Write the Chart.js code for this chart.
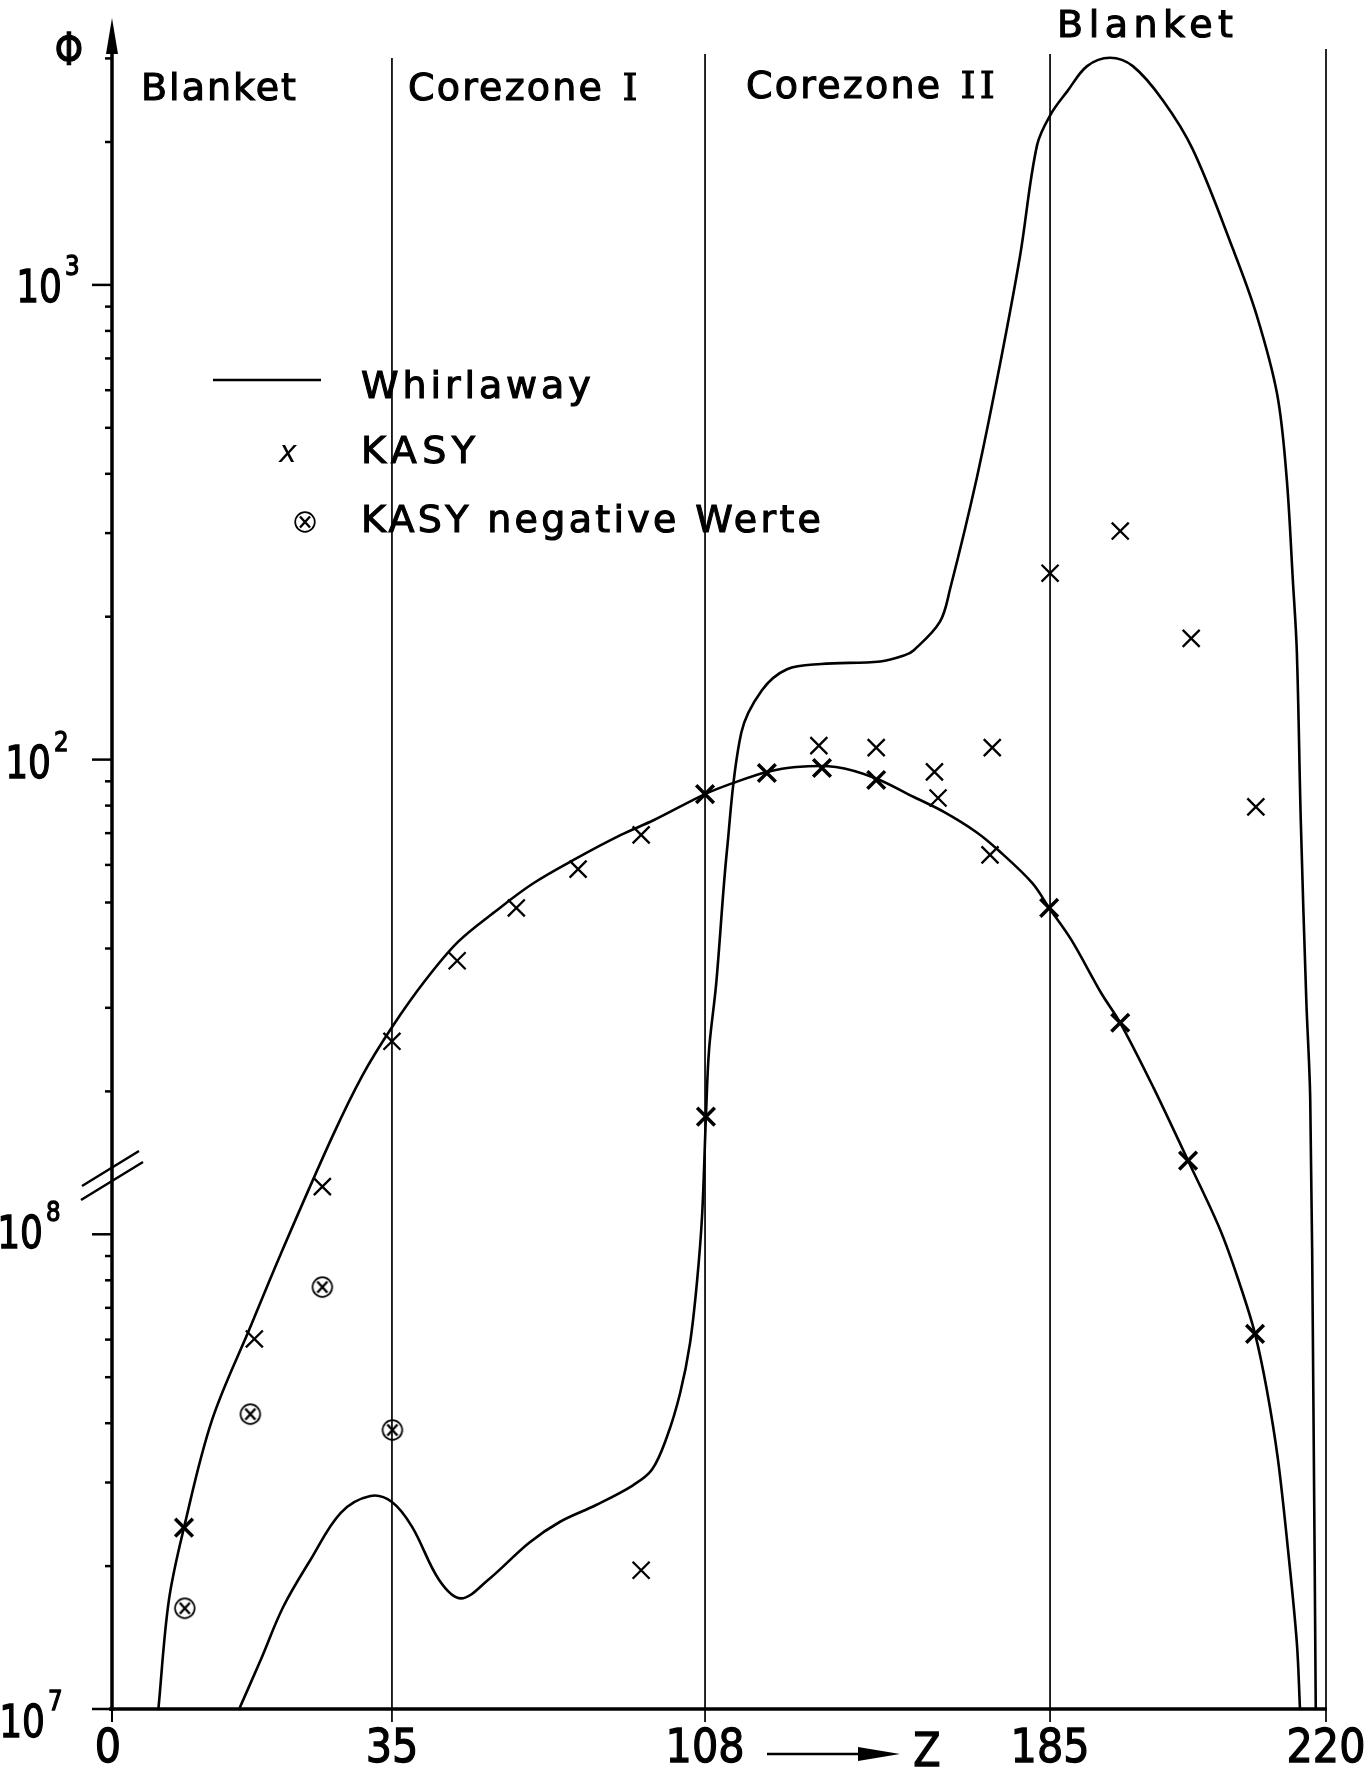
<!DOCTYPE html>
<html>
<head>
<meta charset="utf-8">
<script src="https://cdn.jsdelivr.net/npm/chart.js@4.4.0/dist/chart.umd.min.js"></script>
<style>
  html, body { margin: 0; padding: 0; background: #fff; }
  #wrap { width: 1370px; height: 1768px; }
</style>
</head>
<body>
<div id="wrap"><canvas id="chartFlux" width="1370" height="1768"></canvas></div>
<script>
// zone boundaries on the Z axis (tick labels)
var zoneTicks = [0, 35, 108, 185, 220];
var zoneNames = ['Blanket', 'Corezone I', 'Corezone II', 'Blanket'];

// decades of the drawn axis; the axis is broken above 10^8,
// so the decade drawn at 1e9 reads 10^2 and the one at 1e10 reads 10^3
var decadeValues = [1e7, 1e8, 1e9, 1e10];
var decadeLabels = ['7', '8', '2', '3'];

// Whirlaway, flux through the KASY points
var whirlAZ = [5.8, 7.1, 9.0, 12.5, 17.4, 21.1, 27.5, 31.3, 35.0, 42.7,
  50.4, 59.0, 67.7, 78.1, 88.4, 96.1, 108.0, 114.3, 121.8, 128.3,
  137.2, 145.9, 154.6, 161.3, 168.5, 173.4, 181.0, 184.8, 187.7, 191.5,
  193.9, 198.1, 202.5, 206.6, 209.1, 211.0, 212.5, 213.9, 215.2, 216.3, 216.7];
var whirlAPhi = [1.0e7, 1.69e7, 2.41e7, 4.06e7, 6.44e7, 9.09e7, 1.60e8, 2.16e8, 2.73e8, 3.42e8,
  4.13e8, 4.78e8, 5.47e8, 6.20e8, 6.94e8, 7.46e8, 8.46e8, 8.93e8, 9.42e8, 9.65e8,
  9.65e8, 9.15e8, 8.34e8, 7.76e8, 7.04e8, 6.45e8, 5.50e8, 4.87e8, 4.17e8, 3.22e8,
  2.79e8, 2.04e8, 1.43e8, 1.02e8, 7.82e7, 6.17e7, 4.70e7, 3.36e7, 2.15e7, 1.38e7, 1.0e7];

// Whirlaway, second curve (peak in the outer blanket)
var whirlBZ = [15.9, 18.6, 21.4, 24.8, 28.6, 32.3, 35.0, 39.7, 46.0, 51.1,
  57.4, 67.0, 74.2, 82.6, 91.2, 95.6, 99.1, 102.2, 104.5, 106.1,
  107.3, 108.2, 108.9, 110.5, 112.9, 116.1, 120.7, 126.3, 133.9, 147.1,
  152.6, 154.6, 160.4, 162.7, 168.7, 173.8, 178.3, 182.1, 185.1, 187.2,
  189.7, 192.6, 195.5, 199.3, 203.1, 208.2, 211.2, 213.8, 215.0, 215.8,
  216.3, 216.8, 217.5, 218.0, 218.4, 218.7];
var whirlBPhi = [1.0e7, 1.27e7, 1.64e7, 2.06e7, 2.59e7, 2.81e7, 2.73e7, 2.42e7, 1.87e7, 1.71e7,
  1.87e7, 2.24e7, 2.48e7, 2.69e7, 2.96e7, 3.19e7, 3.74e7, 4.63e7, 5.90e7, 7.90e7,
  1.09e8, 1.77e8, 2.45e8, 3.38e8, 6.45e8, 1.14e9, 1.40e9, 1.55e9, 1.59e9, 1.61e9,
  1.66e9, 1.70e9, 1.95e9, 2.29e9, 3.94e9, 6.78e9, 1.15e10, 1.97e10, 2.29e10, 2.56e10,
  2.89e10, 3.01e10, 2.89e10, 2.45e10, 1.93e10, 1.19e10, 8.64e9, 5.89e9, 3.94e9, 2.38e9,
  1.69e9, 7.46e8, 3.12e8, 1.92e8, 4.48e7, 1.0e7];

// KASY
var kasyZ = [17.8, 26.3, 35.0, 50.2, 64.0, 78.4, 93.1, 93.1, 133.4, 146.2,
  159.2, 160.0, 172.1, 171.6, 185.0, 193.9, 202.9, 211.1];
var kasyPhi = [6.02e7, 1.26e8, 2.55e8, 3.77e8, 4.87e8, 5.88e8, 6.94e8, 1.96e7, 1.07e9, 1.06e9,
  9.42e8, 8.30e8, 1.06e9, 6.30e8, 2.47e9, 3.03e9, 1.80e9, 7.95e8];

// KASY points lying on the Whirlaway curves (drawn heavier)
var kasyOnZ = [9.0, 108.0, 108.2, 121.8, 134.1, 146.2, 184.8, 193.9, 202.5, 211.0];
var kasyOnPhi = [2.41e7, 8.46e8, 1.77e8, 9.37e8, 9.60e8, 9.06e8, 4.87e8, 2.79e8, 1.43e8, 6.17e7];

// KASY negative Werte
var kasyNegZ = [9.1, 17.3, 26.3, 35.1];
var kasyNegPhi = [1.63e7, 4.18e7, 7.74e7, 3.87e7];

// where the zone boundaries sit along the axis (fraction of its length)
var zoneFrac = [0, 0.2306, 0.4885, 0.7727, 1];

toPoints = (zs, phis) => zs.map((z, i) => ({ x: z, y: phis[i] }));

zoneFraction = (v) => {
  for (var i = 1; i < zoneTicks.length; i++) {
    if (v <= zoneTicks[i] || i === zoneTicks.length - 1) {
      var t = (v - zoneTicks[i - 1]) / (zoneTicks[i] - zoneTicks[i - 1]);
      return zoneFrac[i - 1] + t * (zoneFrac[i] - zoneFrac[i - 1]);
    }
  }
  return 0;
};

// linear scale, but piecewise between the zone boundaries
class ZoneScale extends Chart.LinearScale {
  getPixelForValue(value) {
    return this.getPixelForDecimal(zoneFraction(value));
  }
  getValueForPixel(pixel) {
    var f = this.getDecimalForPixel(pixel);
    for (var i = 1; i < zoneFrac.length; i++) {
      if (f <= zoneFrac[i]) {
        var t = (f - zoneFrac[i - 1]) / (zoneFrac[i] - zoneFrac[i - 1]);
        return zoneTicks[i - 1] + t * (zoneTicks[i] - zoneTicks[i - 1]);
      }
    }
    return zoneTicks[zoneTicks.length - 1];
  }
}
ZoneScale.id = 'zone';
ZoneScale.defaults = Chart.LinearScale.defaults;
Chart.register(ZoneScale);

circledCross = () => {
  var c = document.createElement('canvas');
  c.width = 26;
  c.height = 26;
  var g = c.getContext('2d');
  g.strokeStyle = '#000';
  g.lineWidth = 1.7;
  g.beginPath();
  g.arc(13, 13, 9.8, 0, 2 * Math.PI);
  g.stroke();
  g.lineWidth = 2.4;
  g.beginPath();
  g.moveTo(8, 7.5); g.lineTo(18, 18.5);
  g.moveTo(18, 7.5); g.lineTo(8, 18.5);
  g.stroke();
  return c;
};
var negMarker = circledCross();

var FONT = '"DejaVu Sans", sans-serif';

// text with a thin outline, closer to the heavy plotter lettering
heavyText = (ctx, text, x, y, weight) => {
  ctx.fillText(text, x, y);
  ctx.lineWidth = weight;
  ctx.strokeText(text, x, y);
};

narrowText = (ctx, text, x, y, size, sx, align) => {
  ctx.save();
  ctx.font = size + 'px ' + FONT;
  ctx.translate(x, y);
  ctx.scale(sx, 1);
  ctx.textAlign = align;
  heavyText(ctx, text, 0, 0, 1.3);
  ctx.restore();
};

spacedText = (ctx, text, x, y, size, spacing, family) => {
  ctx.save();
  ctx.font = size + 'px ' + (family || FONT);
  ctx.letterSpacing = spacing + 'px';
  ctx.textAlign = 'left';
  heavyText(ctx, text, x, y, 1.1);
  var w = ctx.measureText(text).width;
  ctx.restore();
  return w;
};

// zone name, roman numeral drawn in a serif face like the original lettering
zoneLabel = (ctx, name, x, y, size, spacing) => {
  var m = name.match(/^(.*\s)(I+)$/);
  if (!m) return spacedText(ctx, name, x, y, size, spacing);
  var w = spacedText(ctx, m[1], x, y, size, spacing);
  spacedText(ctx, m[2], x + w + 4, y, size, spacing + 2, '"DejaVu Serif", serif');
};

var paperPlugin = {
  id: 'paper',
  beforeDraw(chart) {
    var ctx = chart.ctx;
    ctx.save();
    ctx.fillStyle = '#fff';
    ctx.fillRect(0, 0, chart.width, chart.height);
    ctx.restore();
  },
  beforeDatasetsDraw(chart) {
    var ctx = chart.ctx;
    var xs = chart.scales.x;
    var yb = chart.chartArea.bottom;
    var tops = [0, 58, 54, 54, 49];
    ctx.save();
    ctx.strokeStyle = '#000';
    ctx.lineWidth = 1.7;
    for (var i = 1; i < zoneTicks.length; i++) {
      var px = xs.getPixelForValue(zoneTicks[i]);
      ctx.beginPath();
      ctx.moveTo(px, tops[i]);
      ctx.lineTo(px, yb + 13);
      ctx.stroke();
    }
    ctx.restore();
  },
  afterDraw(chart) {
    var ctx = chart.ctx;
    var xs = chart.scales.x;
    var ys = chart.scales.y;
    var area = chart.chartArea;
    var x0 = area.left;
    var yb = area.bottom;

    ctx.save();
    ctx.strokeStyle = '#000';
    ctx.fillStyle = '#000';
    ctx.lineCap = 'butt';

    // y axis with arrow
    ctx.lineWidth = 3.5;
    ctx.beginPath();
    ctx.moveTo(x0, yb + 2);
    ctx.lineTo(x0, area.top + 30);
    ctx.stroke();
    ctx.beginPath();
    ctx.moveTo(x0, area.top);
    ctx.lineTo(x0 - 6, area.top + 36);
    ctx.lineTo(x0 + 6, area.top + 36);
    ctx.closePath();
    ctx.fill();

    // x axis
    ctx.beginPath();
    ctx.moveTo(x0 - 3, yb);
    ctx.lineTo(area.right + 1, yb);
    ctx.stroke();
    ctx.lineWidth = 2;
    ctx.beginPath();
    ctx.moveTo(x0, yb);
    ctx.lineTo(x0, yb + 13);
    ctx.stroke();

    // log ticks on the y axis
    ctx.lineWidth = 2.5;
    for (var n = 7; n <= 10; n++) {
      for (var k = 1; k <= 9; k++) {
        var v = k * Math.pow(10, n);
        if (v > ys.max) break;
        var py = ys.getPixelForValue(v);
        var len = k === 1 ? 20 : 7;
        ctx.beginPath();
        ctx.moveTo(x0 - len, py);
        ctx.lineTo(x0, py);
        ctx.stroke();
      }
    }

    // axis break marks
    ctx.lineWidth = 2.5;
    ctx.beginPath();
    ctx.moveTo(82, 1186); ctx.lineTo(139, 1151);
    ctx.moveTo(81, 1200); ctx.lineTo(143, 1162);
    ctx.stroke();

    // y tick labels 10^n
    var labelRight = [45, 43, 51, 62];
    var labelDrop = [28, 14, 18, 17];
    decadeValues.forEach((v, i) => {
      var py = ys.getPixelForValue(v);
      var base = py + labelDrop[i];
      narrowText(ctx, '10', labelRight[i], base, 45, 0.8, 'right');
      narrowText(ctx, decadeLabels[i], labelRight[i] + 3, base - 27, 27, 0.85, 'left');
    });

    // Phi
    narrowText(ctx, 'Φ', 69, 65, 45, 0.8, 'center');

    // x tick labels
    zoneTicks.forEach((z) => {
      var px = xs.getPixelForValue(z);
      if (z === 0) px -= 4;
      narrowText(ctx, String(z), px, 1762, 47, 0.88, 'center');
    });

    // Z arrow
    ctx.lineWidth = 2.5;
    ctx.beginPath();
    ctx.moveTo(767, 1754);
    ctx.lineTo(862, 1754);
    ctx.stroke();
    ctx.beginPath();
    ctx.moveTo(900, 1754);
    ctx.lineTo(858, 1747);
    ctx.lineTo(858, 1761);
    ctx.closePath();
    ctx.fill();
    narrowText(ctx, 'Z', 927, 1766, 47, 0.85, 'center');

    // zone names
    var nameOffset = [29, 16, 41, 7];
    var nameBase = [100, 100, 98, 37];
    var nameSpacing = [2, 2.2, 2.2, 5.5];
    zoneNames.forEach((name, i) => {
      var px = xs.getPixelForValue(zoneTicks[i]) + nameOffset[i];
      zoneLabel(ctx, name, px, nameBase[i], 38, nameSpacing[i]);
    });

    // legend
    ctx.lineWidth = 2.5;
    ctx.beginPath();
    ctx.moveTo(213, 380);
    ctx.lineTo(321, 380);
    ctx.stroke();
    spacedText(ctx, 'Whirlaway', 361, 398, 38, 3.9);
    ctx.save();
    ctx.font = 'italic 30px ' + FONT;
    ctx.textAlign = 'center';
    ctx.fillText('x', 288, 462);
    ctx.restore();
    spacedText(ctx, 'KASY', 361, 463, 38, 5.5);
    ctx.drawImage(negMarker, 305 - 13, 522 - 13);
    spacedText(ctx, 'KASY negative Werte', 361, 532, 38, 3.3);

    ctx.restore();
  },
};

var ctx = document.getElementById('chartFlux').getContext('2d');
var chartFlux = new Chart(ctx, {
  type: 'line',
  plugins: [paperPlugin],
  data: {
    datasets: [
      {
        label: 'Whirlaway',
        data: toPoints(whirlAZ, whirlAPhi),
        borderColor: '#000',
        borderWidth: 2.6,
        pointRadius: 0,
        fill: false,
        tension: 0.35,
      },
      {
        label: 'Whirlaway ',
        data: toPoints(whirlBZ, whirlBPhi),
        borderColor: '#000',
        borderWidth: 2.6,
        pointRadius: 0,
        fill: false,
        tension: 0.35,
      },
      {
        label: 'KASY',
        data: toPoints(kasyZ, kasyPhi),
        showLine: false,
        pointStyle: 'crossRot',
        pointRadius: 12,
        pointBorderWidth: 2.3,
        borderColor: '#000',
      },
      {
        label: 'KASY',
        data: toPoints(kasyOnZ, kasyOnPhi),
        showLine: false,
        pointStyle: 'crossRot',
        pointRadius: 12.5,
        pointBorderWidth: 3.5,
        borderColor: '#000',
      },
      {
        label: 'KASY negative Werte',
        data: toPoints(kasyNegZ, kasyNegPhi),
        showLine: false,
        pointStyle: negMarker,
        pointRadius: 13,
        borderColor: '#000',
      },
    ],
  },
  options: {
    responsive: false,
    devicePixelRatio: 1,
    animation: false,
    events: [],
    layout: {
      padding: { left: 112, right: 44, top: 18, bottom: 59 },
    },
    scales: {
      x: {
        type: 'zone',
        min: 0,
        max: 220,
        display: false,
      },
      y: {
        type: 'logarithmic',
        min: 1e7,
        max: Math.pow(10, 7 + (1709 - 18) / 474.7),
        display: false,
      },
    },
    plugins: {
      legend: { display: false },
      tooltip: { enabled: false },
    },
  },
});
</script>
</body>
</html>
